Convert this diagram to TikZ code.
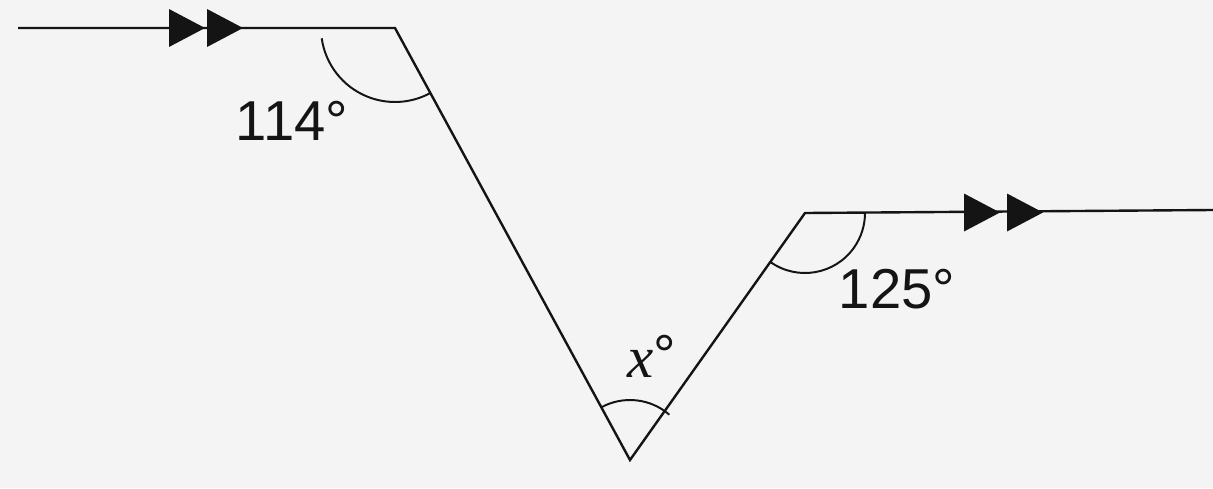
\documentclass[tikz,border=0pt]{standalone}
\usepackage{fontspec}
\setmainfont{Liberation Sans}
\newfontfamily\varfont{Liberation Serif}
\definecolor{paper}{RGB}{244,244,244}
\definecolor{ink}{RGB}{20,20,20}
\tikzset{
  edge/.style={draw=ink, line width=1.7pt, line join=miter},
  anglearc/.style={draw=ink, line width=1.4pt},
  degree/.style={text=ink, font=\fontsize{40}{48}\selectfont, inner sep=0pt},
  parmark/.style={fill=ink}
}
\begin{document}
\begin{tikzpicture}[x=0.025cm, y=-0.025cm]
            \fill[paper] (0,0) rectangle (1213,488);
            \useasboundingbox (0,0) rectangle (1213,488);
            % corners of the zigzag (y runs downwards, so angles turn clockwise)
            \coordinate (start) at (18,28);
            \coordinate (top) at (395,28);
            \coordinate (bottom) at (630,460);
            \coordinate (right) at (805,213);
            \coordinate (end) at (1213,210);
            \draw[edge] (start) -- (top) -- (bottom) -- (right) -- (end);
            % parallel marks
            \foreach \tip in {205,243}
                \fill[parmark] (\tip,28) -- ++(-36,-19) -- ++(0,38) -- cycle;
            \foreach \tip in {1000,1043}
                \fill[parmark] (\tip,212.5) -- ++(-36,-19) -- ++(0,38) -- cycle;
            % angle arcs
            \draw[anglearc] (top) ++(172:74) arc[start angle=172, end angle=61.5, radius=74];
            \draw[anglearc] (bottom) ++(-118.5:60) arc[start angle=-118.5, end angle=-49, radius=60];
            \draw[anglearc] (right) ++(125.3:60) arc[start angle=125.3, end angle=0, radius=60];
            % labels
            \node[degree] (a114) at (292,121) {114°};
            \node[degree] (a125) at (897,289) {125°};
            \node[degree] (ax) at (652,356) {{\varfont\itshape\fontsize{42}{48}\selectfont x}\raisebox{2pt}{°}};
\end{tikzpicture}
\end{document}
